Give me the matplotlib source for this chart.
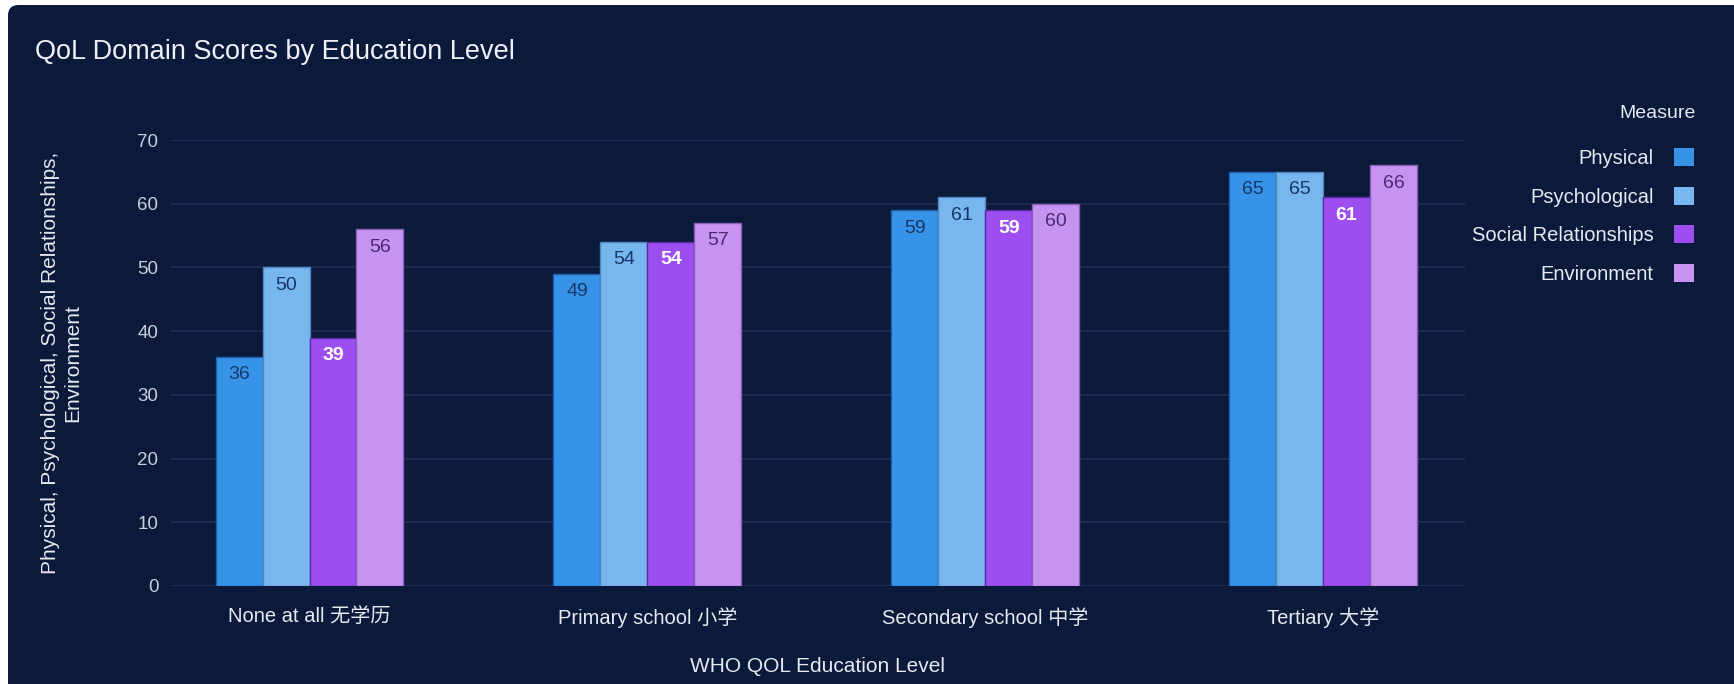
import numpy as np
import matplotlib
matplotlib.use('Agg')
import matplotlib.pyplot as plt
from matplotlib.patches import Patch, FancyBboxPatch

plt.rcParams['font.family'] = ['Liberation Sans', 'Noto Sans CJK SC', 'DejaVu Sans']

levels = ['None at all 无学历', 'Primary school 小学', 'Secondary school 中学', 'Tertiary 大学']
measures = ['Physical', 'Psychological', 'Social Relationships', 'Environment']
physical = [36, 49, 59, 65]
psychological = [50, 54, 61, 65]
social = [39, 54, 59, 61]
environment = [56, 57, 60, 66]
series = [physical, psychological, social, environment]

colors = ['#3793e8', '#78b6ef', '#9d4ef0', '#c594f1']
edge_colors = ['#1f5fae', '#4f86c0', '#5b2aa0', '#8a5fb8']
label_colors = ['#173766', '#173766', '#ffffff', '#4b2a72']
bg = '#0b1a3b'
grid_c = '#1d2b4f'
text_c = '#c9ced9'

fig = plt.figure(figsize=(17.34, 6.84), dpi=100, facecolor='white')
W, H = 1734, 684
panel = FancyBboxPatch((8 / W, -0.05), 1.1, 1 - 5 / H + 0.05,
                       boxstyle='round,pad=0,rounding_size=0.006',
                       transform=fig.transFigure, facecolor=bg, edgecolor='none',
                       zorder=-5, mutation_aspect=W / H)
fig.patches.append(panel)

ax = fig.add_axes([171 / W, 1 - 586 / H, (1465 - 171) / W, (586 - 140) / H])
ax.patch.set_alpha(0)

x = np.arange(len(levels))
bw = 0.139
for i, (vals, name) in enumerate(zip(series, measures)):
    pos = x + (i - 1.5) * bw
    bars = ax.bar(pos, vals, bw, color=colors[i], edgecolor=edge_colors[i],
                  linewidth=1.0, label=name, zorder=3)
    for b, v in zip(bars, vals):
        ax.annotate(str(v), (b.get_x() + b.get_width() / 2, v),
                    xytext=(0, -13), textcoords='offset points',
                    ha='center', va='center', fontsize=14,
                    color=label_colors[i],
                    fontweight='bold' if i == 2 else 'normal', zorder=4)

ax.set_xlim(-0.41, 3.42)
ax.set_ylim(0, 70)
ax.set_yticks(range(0, 71, 10))
ax.set_xticks(x)
ax.set_xticklabels(levels)
ax.grid(axis='y', color=grid_c, linewidth=1.5, zorder=0)
ax.set_axisbelow(True)
for s in ax.spines.values():
    s.set_visible(False)
ax.tick_params(axis='both', length=0, colors=text_c)
ax.tick_params(axis='y', pad=9, labelsize=13.5)
ax.tick_params(axis='x', pad=15, labelsize=14.5)
for lab in ax.get_xticklabels():
    lab.set_color('#e6e9f0')

ax.set_xlabel('WHO QOL Education Level', color='#e6e9f0', fontsize=15, labelpad=21)
ax.set_ylabel('Physical, Psychological, Social Relationships,\nEnvironment',
              color='#e6e9f0', fontsize=15, labelpad=40, linespacing=1.2)

fig.text(35 / W, 1 - 52 / H, 'QoL Domain Scores by Education Level',
         color='#eef0f5', fontsize=19.5, va='center', ha='left')

# legend: title placed on its own so the gap matches
fig.text(1696 / W, 1 - 113 / H, 'Measure', color='#e6e9f0', fontsize=14,
         ha='right', va='center')
handles = [Patch(facecolor=c, edgecolor='none') for c in colors]
leg = fig.legend(handles, measures, loc='upper right',
                 bbox_to_anchor=(1712 / W, 1 - 130 / H), frameon=False,
                 markerfirst=False, alignment='right', fontsize=14.5,
                 handlelength=1.0, handleheight=1.0,
                 handletextpad=1.0, labelspacing=0.93)
for t in leg.get_texts():
    t.set_color('#e6e9f0')

fig.savefig('out.png', dpi=100, facecolor=fig.get_facecolor())
